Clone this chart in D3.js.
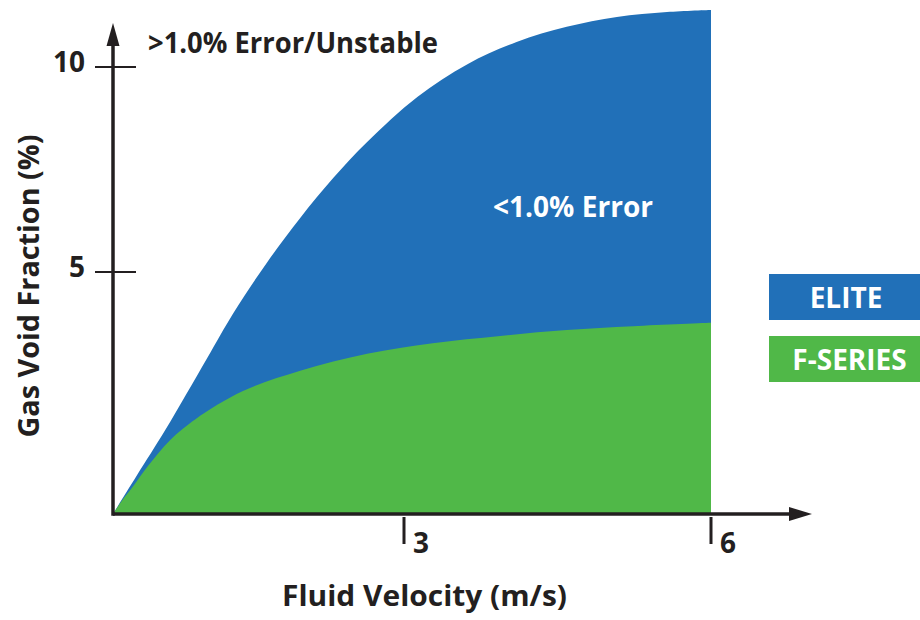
<!DOCTYPE html>
<html>
<head>
<meta charset="utf-8">
<script src="https://cdn.jsdelivr.net/npm/d3@7"></script>
<style>
    body { margin: 0; background: #fff; }
    text { font-family: "Open Sans", sans-serif; font-weight: 700; }
</style>
</head>
<body>
<div id="chartContainer"></div>
<script>
'use strict';

// fluid velocity (m/s) vs gas void fraction (%) boundary for each meter
const eliteVelocity = [0, 0.25, 0.54, 0.97, 1.24, 1.59, 1.93, 2.27, 2.62, 3.13, 3.62, 4.10, 4.59, 5.08, 5.57, 6.0];
const eliteGvf = [0, 0.81, 1.74, 3.22, 4.15, 5.24, 6.32, 7.29, 8.17, 9.27, 10.07, 10.61, 10.98, 11.22, 11.34, 11.39];

const fseriesVelocity = [0, 0.09, 0.21, 0.36, 0.59, 0.85, 1.34, 1.93, 2.62, 3.28, 3.94, 4.59, 5.24, 6.0];
const fseriesGvf = [0, 0.27, 0.58, 0.99, 1.53, 1.96, 2.54, 2.96, 3.31, 3.53, 3.68, 3.80, 3.88, 3.95];

const xTicks = [3, 6];
const yTicks = [5, 10];

const seriesNames = ["ELITE", "F-SERIES"];

const colors = {
    "ELITE": "#2170b8",
    "F-SERIES": "#50b848"
}

const ink = "#231f20";

const width = 920, height = 620;

// Builds the svg and draws everything
const plotChart = () => {
    const svg = d3.select("#chartContainer")
        .append("svg")
        .attr("width", width)
        .attr("height", height);

    // axis ticks are not evenly spaced in the original, so use piecewise scales
    const x = d3.scaleLinear().domain([0, 3, 6]).range([113, 404, 711]);
    const y = d3.scaleLinear().domain([0, 5, 10]).range([514, 272, 67]);

    plotArea(svg, eliteVelocity, eliteGvf, colors["ELITE"], x, y);
    plotArea(svg, fseriesVelocity, fseriesGvf, colors["F-SERIES"], x, y);

    plotAxes(svg, x, y);
    plotLabels(svg);
    plotLegend(svg);
}

const plotArea = (svg, xs, ys, color, x, y) => {
    const data = xs.map((v, i) => ({ v: v, g: ys[i] }));
    const area = d3.area()
        .x(d => x(d.v))
        .y0(y(0))
        .y1(d => y(d.g))
        .curve(d3.curveCatmullRom.alpha(0.5));

    svg.append("path")
        .datum(data)
        .attr("d", area)
        .attr("fill", color);
}

// Axes with arrows, drawn by hand like the original
const plotAxes = (svg, x, y) => {
    const x0 = x(0), y0 = y(0);
    const xEnd = 812, yEnd = 23;

    svg.append("line")
        .attr("x1", x0).attr("x2", xEnd - 20)
        .attr("y1", y0).attr("y2", y0)
        .attr("stroke", ink).attr("stroke-width", 3.5);

    svg.append("line")
        .attr("x1", x0).attr("x2", x0)
        .attr("y1", y0 + 1.75).attr("y2", yEnd + 20)
        .attr("stroke", ink).attr("stroke-width", 3.5);

    svg.append("path")
        .attr("d", `M${xEnd},${y0} L${xEnd - 23},${y0 - 7} L${xEnd - 23},${y0 + 7} Z`)
        .attr("fill", ink);

    svg.append("path")
        .attr("d", `M${x0},${yEnd} L${x0 - 6.5},${yEnd + 23} L${x0 + 6.5},${yEnd + 23} Z`)
        .attr("fill", ink);

    // y ticks cross the axis
    svg.selectAll(".ytick")
        .data(yTicks)
        .enter()
        .append("line")
        .attr("class", "ytick")
        .attr("x1", x0 - 18).attr("x2", x0 + 23)
        .attr("y1", d => y(d)).attr("y2", d => y(d))
        .attr("stroke", ink).attr("stroke-width", 2);

    svg.selectAll(".ylabel")
        .data(yTicks)
        .enter()
        .append("text")
        .attr("class", "ylabel")
        .attr("x", x0 - 28)
        .attr("y", d => y(d) + 5)
        .attr("text-anchor", "end")
        .attr("font-size", 28)
        .attr("fill", ink)
        .text(d => d);

    // x ticks hang below the axis, label to their right
    svg.selectAll(".xtick")
        .data(xTicks)
        .enter()
        .append("line")
        .attr("class", "xtick")
        .attr("x1", d => x(d)).attr("x2", d => x(d))
        .attr("y1", y0 + 3).attr("y2", y0 + 30)
        .attr("stroke", ink).attr("stroke-width", 3);

    svg.selectAll(".xlabel")
        .data(xTicks)
        .enter()
        .append("text")
        .attr("class", "xlabel")
        .attr("x", d => x(d) + 9)
        .attr("y", y0 + 39)
        .attr("font-size", 28)
        .attr("fill", ink)
        .text(d => d);
}

const plotLabels = (svg) => {
    svg.append("text")
        .attr("x", 148).attr("y", 53)
        .attr("font-size", 28)
        .attr("fill", ink)
        .attr("textLength", 290)
        .attr("lengthAdjust", "spacingAndGlyphs")
        .text(">1.0% Error/Unstable");

    svg.append("text")
        .attr("x", 493).attr("y", 217)
        .attr("font-size", 28)
        .attr("fill", "#fff")
        .attr("textLength", 160)
        .attr("lengthAdjust", "spacingAndGlyphs")
        .text("<1.0% Error");

    svg.append("text")
        .attr("transform", "translate(39,286) rotate(-90)")
        .attr("text-anchor", "middle")
        .attr("font-size", 28)
        .attr("fill", ink)
        .attr("textLength", 303)
        .attr("lengthAdjust", "spacingAndGlyphs")
        .text("Gas Void Fraction (%)");

    svg.append("text")
        .attr("x", 282).attr("y", 606)
        .attr("font-size", 28)
        .attr("fill", ink)
        .attr("textLength", 285)
        .attr("lengthAdjust", "spacingAndGlyphs")
        .text("Fluid Velocity (m/s)");
}

// Legend boxes at the right edge
const plotLegend = (svg) => {
    const boxTop = [274, 336];
    const g = svg.selectAll(".legend")
        .data(seriesNames)
        .enter()
        .append("g")
        .attr("class", "legend");

    g.append("rect")
        .attr("x", 769)
        .attr("y", (d, i) => boxTop[i])
        .attr("width", width - 769)
        .attr("height", 46)
        .attr("fill", d => colors[d]);

    g.append("text")
        .attr("x", (d, i) => i === 0 ? 846 : 849.5)
        .attr("y", (d, i) => boxTop[i] + 34)
        .attr("text-anchor", "middle")
        .attr("font-size", 28)
        .attr("fill", "#fff")
        .text(d => d);
}

plotChart();
</script>
</body>
</html>
